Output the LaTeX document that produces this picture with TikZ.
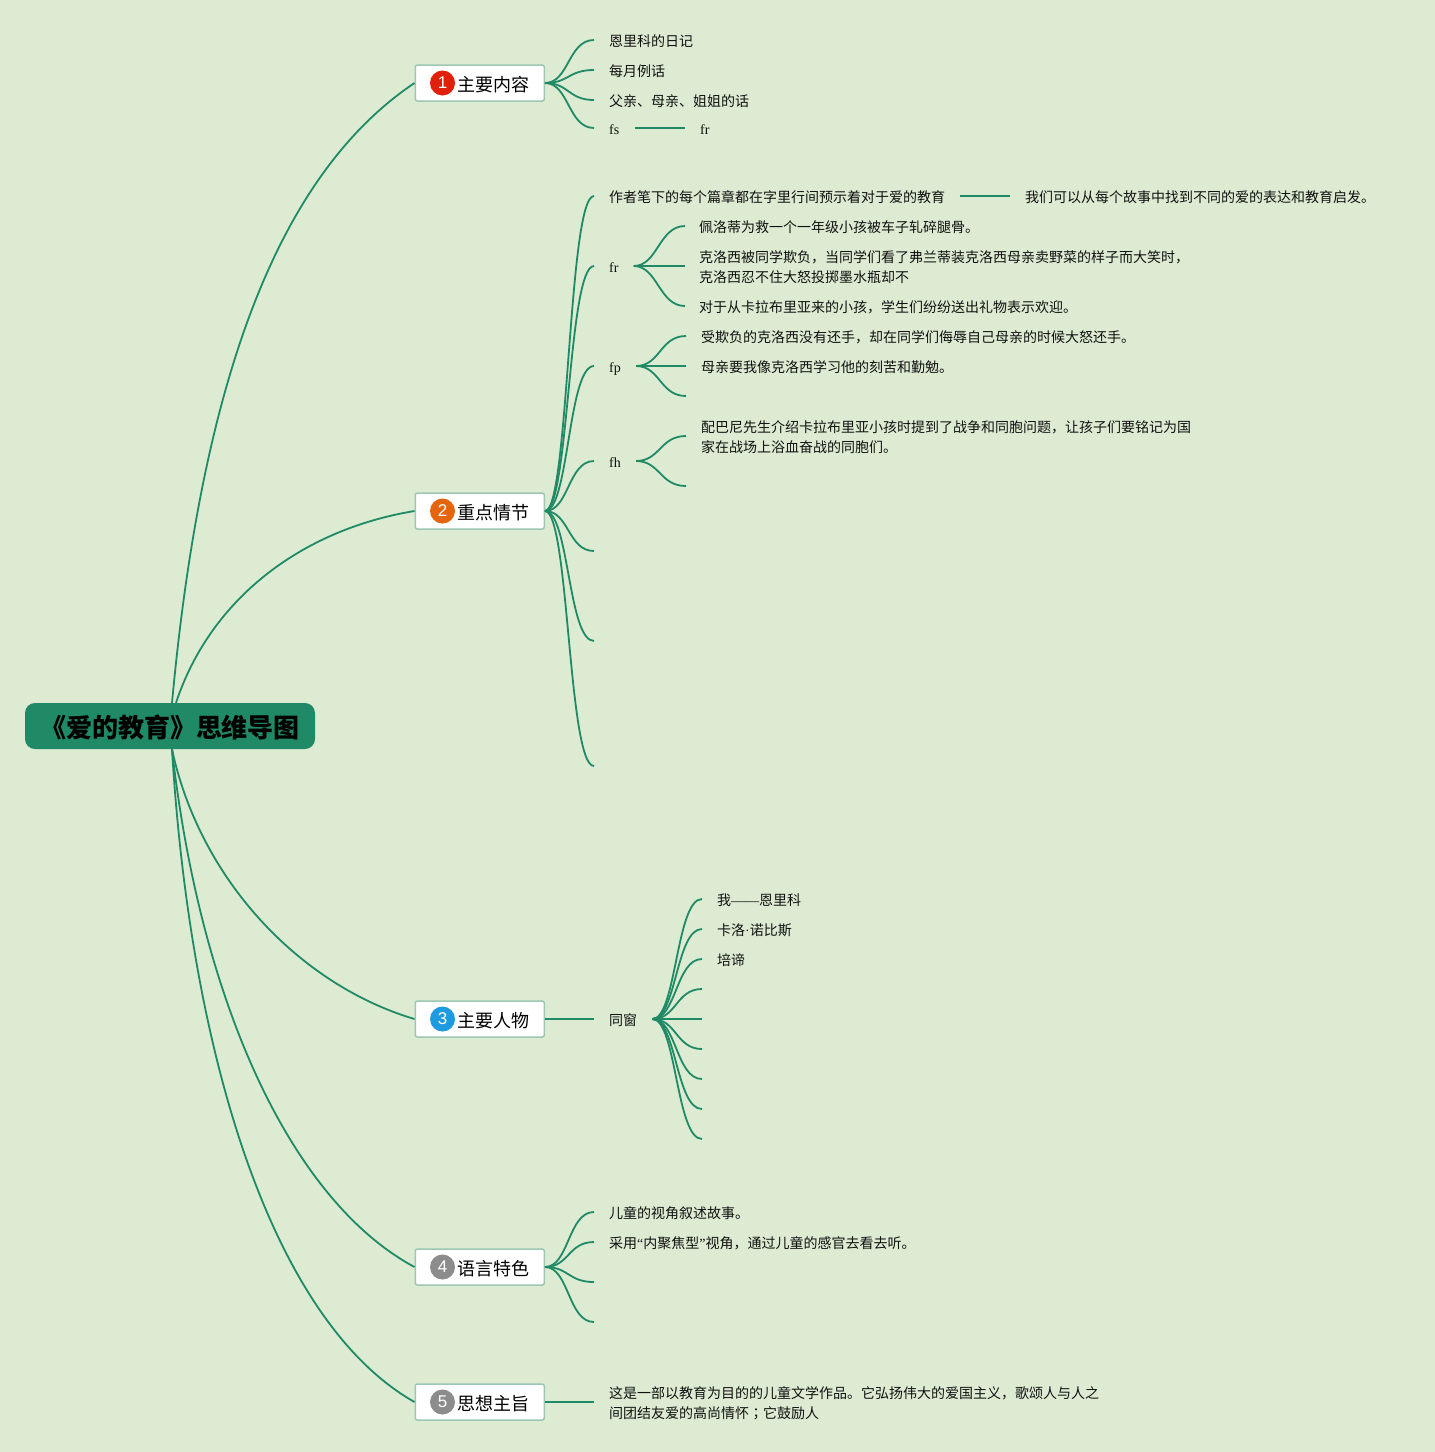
\documentclass[tikz,border=0pt]{standalone}
\usepackage{fontspec}
\setmainfont{Noto Sans CJK SC}
\newfontfamily\lat{Liberation Serif}
\newfontfamily\num{Liberation Sans}
\newfontfamily\tcf{Noto Sans CJK TC}
\definecolor{bg}{HTML}{DCEBD2}
\definecolor{gr}{HTML}{1F8A65}
\definecolor{edge}{HTML}{9CC7B4}
\definecolor{ink}{HTML}{111111}
\tikzset{
  conn/.style={draw=gr,line width=1.8pt},
  rootbox/.style={fill=gr,rounded corners=10pt,minimum width=290pt,minimum height=46pt,inner sep=0pt,text=black,font=\fontsize{26}{30}\selectfont\bfseries},
  topic/.style={draw=edge,fill=white,line width=1.5pt,rounded corners=2pt,anchor=west,minimum height=36pt,inner xsep=0pt,inner ysep=0pt,text=black,font=\fontsize{18}{22}\selectfont},
  badge/.style={circle,minimum size=25pt,inner sep=0pt,text=white,font=\num\fontsize{17}{20}\selectfont},
  leaf/.style={anchor=west,inner xsep=15pt,inner ysep=0pt,align=left,text=ink,font=\fontsize{14}{20}\selectfont},
  subleaf/.style={leaf,inner xsep=14pt},
}
\newcommand{\lnk}[2]{\draw[conn] (#1) .. controls +(24,0) and +(-26,0) .. (#2);}
\newcommand{\tx}[1]{\raisebox{-2.5pt}[\height][\depth]{\begin{tabular}{@{}l@{}}#1\end{tabular}}}
\newcommand{\tp}[1]{\hbox to 129pt{\hspace{42pt}\raisebox{-1.5pt}[\height][\depth]{#1}\hfil}}
\begin{document}
\begin{tikzpicture}[x=1pt,y=-1pt]
\useasboundingbox (0,0) rectangle (1435,1452);
\fill[bg] (0,0) rectangle (1435,1452);

% main nodes
\node[rootbox] (root) at (170,726) {\raisebox{-1.5pt}[\height][\depth]{《爱的教育》思维导图}};
\node[topic] (t1) at (414.5,83) {\tp{主要内容}};
\node[topic] (t2) at (414.5,511) {\tp{重点情节}};
\node[topic] (t3) at (414.5,1019) {\tp{主要人物}};
\node[topic] (t4) at (414.5,1267) {\tp{语言特色}};
\node[topic] (t5) at (414.5,1402) {\tp{思想主旨}};
\node[badge,fill={rgb,255:red,224;green,32;blue,12}] (b1) at (442.5,83) {1};
\node[badge,fill={rgb,255:red,229;green,101;blue,15}] (b2) at (442.5,511) {2};
\node[badge,fill={rgb,255:red,30;green,155;blue,224}] (b3) at (442.5,1019) {3};
\node[badge,fill={rgb,255:red,140;green,140;blue,140}] (b4) at (442.5,1267) {4};
\node[badge,fill={rgb,255:red,140;green,140;blue,140}] (b5) at (442.5,1402) {5};

% root connectors
\draw[conn] ([xshift=2pt]root.north) .. controls (200,400) and (270,180) .. (t1.west);
\draw[conn] ([xshift=6pt]root.north) .. controls (210,600) and (300,530) .. (t2.west);
\draw[conn] ([xshift=2pt]root.south) .. controls (200,880) and (300,985) .. (t3.west);
\draw[conn] ([xshift=2pt]root.south) .. controls (200,1000) and (290,1200) .. (t4.west);
\draw[conn] ([xshift=2pt]root.south) .. controls (190,1050) and (270,1320) .. (t5.west);

% topic 1
\node[leaf] (a1) at (594,40) {\tx{恩里科的日记}};
\node[leaf] (a2) at (594,70) {\tx{每月例话}};
\node[leaf] (a3) at (594,100) {\tx{父亲、母亲、姐姐的话}};
\node[leaf] (a4) at (594,128) {\tx{\lat fs}};
\node[leaf] (a5) at (685,128) {\tx{\lat fr}};
\lnk{t1.east}{a1.west}\lnk{t1.east}{a2.west}\lnk{t1.east}{a3.west}\lnk{t1.east}{a4.west}
\draw[conn] (a4.east) -- (a5.west);

% topic 2
\node[leaf] (c1) at (594,196) {\tx{作者笔下的每个篇章都在字里行间预示着对于爱的教育}};
\node[leaf] (c1b) at (1010,196) {\tx{我们可以从每个故事中找到不同的爱的表达和教育启发。}};
\node[leaf] (c2) at (594,266) {\tx{\lat fr}};
\node[leaf] (c3) at (594,366) {\tx{\lat fp}};
\node[leaf] (c4) at (594,461) {\tx{\lat fh}};
\coordinate (c5) at (594,551);
\coordinate (c6) at (594,641);
\coordinate (c7) at (594,766);
\lnk{t2.east}{c1.west}\lnk{t2.east}{c2.west}\lnk{t2.east}{c3.west}\lnk{t2.east}{c4.west}
\lnk{t2.east}{c5}\lnk{t2.east}{c6}\lnk{t2.east}{c7}
\draw[conn] (c1.east) -- (c1b.west);

\node[subleaf] (d1) at (685,226) {\tx{佩洛蒂为救一个一年级小孩被车子轧碎腿骨。}};
\node[subleaf] (d2) at (685,266) {\tx{克洛西被同学欺负，当同学们看了弗兰蒂装克洛西母亲卖野菜的样子而大笑时，\\克洛西忍不住大怒投掷墨水瓶却不}};
\node[subleaf] (d3) at (685,306) {\tx{对于从卡拉布里亚来的小孩，学生们纷纷送出礼物表示欢迎。}};
\lnk{c2.east}{d1.west}\lnk{c2.east}{d2.west}\lnk{c2.east}{d3.west}

\node[leaf] (e1) at (686,336) {\tx{受欺负的克洛西没有还手，却在同学们侮辱自己母亲的时候大怒还手。}};
\node[leaf] (e2) at (686,366) {\tx{母亲要我像克洛西学习他的刻苦和勤勉。}};
\coordinate (e3) at (686,396);
\lnk{c3.east}{e1.west}\lnk{c3.east}{e2.west}\lnk{c3.east}{e3}

\node[leaf] (f1) at (686,436) {\tx{配巴尼先生介绍卡拉布里亚小孩时提到了战争和同胞问题，让孩子们要铭记为国\\家在战场上浴血奋战的同胞们。}};
\coordinate (f2) at (686,486);
\lnk{c4.east}{f1.west}\lnk{c4.east}{f2}

% topic 3
\node[leaf] (g) at (594,1019) {\tx{同窗}};
\draw[conn] (t3.east) -- (g.west);
\node[leaf] (h1) at (702,899) {\tx{我{\lat ——}恩里科}};
\node[leaf] (h2) at (702,929) {\tx{卡洛{\lat ·}诺比斯}};
\node[leaf] (h3) at (702,959) {\tx{培谛}};
\coordinate (h4) at (702,989);
\coordinate (h5) at (702,1019);
\coordinate (h6) at (702,1049);
\coordinate (h7) at (702,1079);
\coordinate (h8) at (702,1109);
\coordinate (h9) at (702,1139);
\lnk{g.east}{h1.west}\lnk{g.east}{h2.west}\lnk{g.east}{h3.west}
\lnk{g.east}{h4}\lnk{g.east}{h5}\lnk{g.east}{h6}\lnk{g.east}{h7}\lnk{g.east}{h8}\lnk{g.east}{h9}

% topic 4
\node[leaf] (i1) at (594,1212) {\tx{儿童的视角叙述故事。}};
\node[leaf] (i2) at (594,1242) {\tx{采用{\lat “}内聚焦型{\lat ”}视角，通过儿童的感官去看去听。}};
\coordinate (i3) at (594,1282);
\coordinate (i4) at (594,1322);
\lnk{t4.east}{i1.west}\lnk{t4.east}{i2.west}\lnk{t4.east}{i3}\lnk{t4.east}{i4}

% topic 5
\node[leaf] (j1) at (594,1402) {\tx{这是一部以教育为目的的儿童文学作品。它弘扬伟大的爱国主义，歌颂人与人之\\间团结友爱的高尚情怀{\tcf ；}它鼓励人}};
\draw[conn] (t5.east) -- (j1.west);
\end{tikzpicture}
\end{document}
